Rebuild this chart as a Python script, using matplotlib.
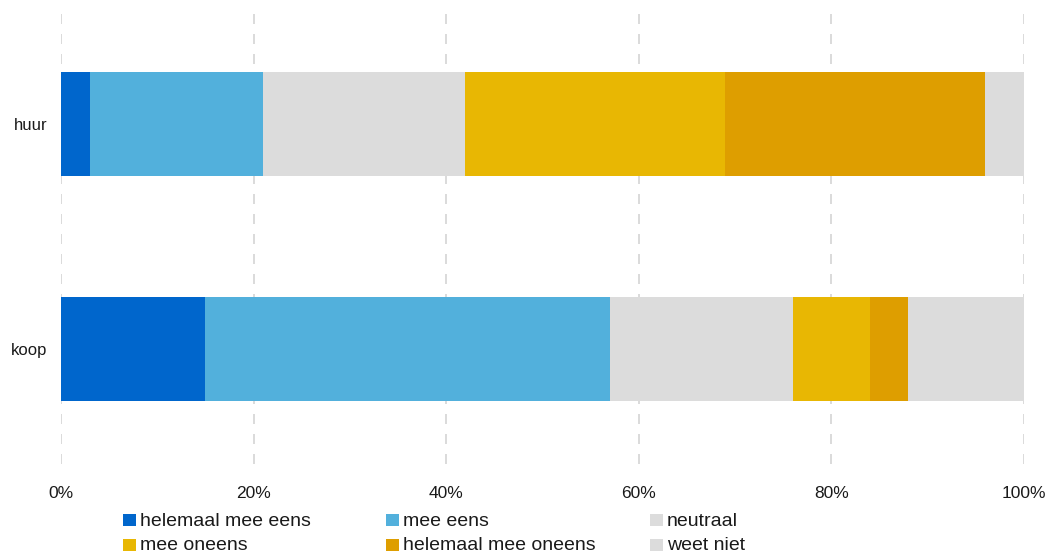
import matplotlib
matplotlib.use("Agg")
import matplotlib.pyplot as plt
from matplotlib.patches import Rectangle

plt.rcParams['font.family'] = ['Liberation Sans', 'DejaVu Sans']

categories = ["huur", "koop"]
series_names = ["helemaal mee eens", "mee eens", "neutraal",
                "mee oneens", "helemaal mee oneens", "weet niet"]
helemaal_mee_eens = [3, 15]
mee_eens = [18, 42]
neutraal = [21, 19]
mee_oneens = [27, 8]
helemaal_mee_oneens = [27, 4]
weet_niet = [4, 12]
series_values = [helemaal_mee_eens, mee_eens, neutraal,
                 mee_oneens, helemaal_mee_oneens, weet_niet]
colors = ["#0066CC", "#52B0DC", "#DCDCDC", "#E8B703", "#DE9E00", "#DCDCDC"]
xticks = [0, 20, 40, 60, 80, 100]
xtick_labels = ["0%", "20%", "40%", "60%", "80%", "100%"]

W, H = 1048, 555
fig = plt.figure(figsize=(W / 100, H / 100), dpi=100)
ax = fig.add_axes([61 / W, 1 - 464 / H, (1024 - 61) / W, (464 - 12) / H])

ypos = list(range(len(categories)))
left = [0] * len(categories)
for name, vals, c in zip(series_names, series_values, colors):
    ax.barh(ypos, vals, left=left, height=0.463, color=c, label=name, zorder=2)
    left = [l + v for l, v in zip(left, vals)]

ax.set_xlim(0, 100)
ax.set_ylim(1.51, -0.5)
ax.set_yticks(ypos)
ax.set_yticklabels(categories, fontsize=12)
ax.set_xticks(xticks)
ax.set_xticklabels(xtick_labels, fontsize=12.5)
ax.tick_params(axis='both', length=0, colors='#1a1a1a')
ax.tick_params(axis='x', pad=16)
ax.tick_params(axis='y', pad=10)
for s in ax.spines.values():
    s.set_visible(False)
ax.grid(axis='x', color='#d4d4d4', linewidth=1.2, dashes=(6, 6), zorder=0)
ax.grid(axis='y', visible=False)
ax.set_axisbelow(True)

# legend laid out in a 3-column grid below the axes
col_x = [123, 386, 650]
row_base = [525.5, 550.5]
for i, (name, c) in enumerate(zip(series_names, colors)):
    r, k = divmod(i, 3)
    x0 = col_x[k]
    yb = row_base[r]
    fig.add_artist(Rectangle((x0 / W, 1 - yb / H), 13 / W, 12 / H,
                             transform=fig.transFigure, color=c, lw=0))
    fig.text((x0 + 17) / W, 1 - yb / H, name, fontsize=14,
             va='baseline', ha='left', color='#1a1a1a')

fig.savefig("out.png", dpi=100)
